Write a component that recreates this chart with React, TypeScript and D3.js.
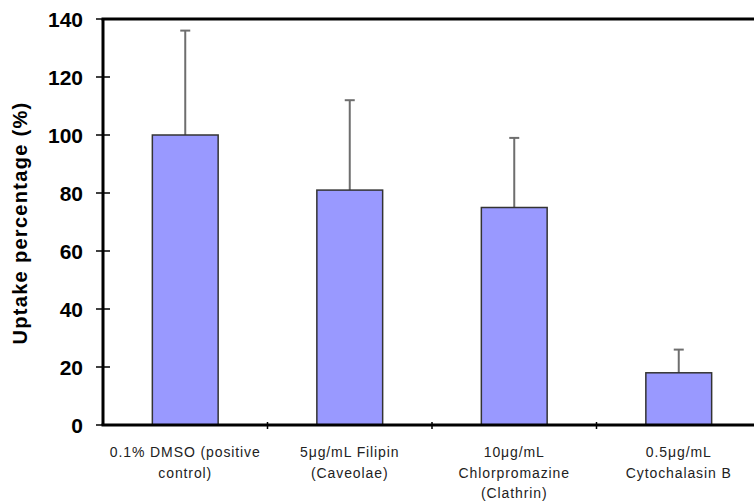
import React from "react";
import * as d3 from "d3";

const categories: string[][] = [
  ["0.1% DMSO (positive", "control)"],
  ["5μg/mL Filipin", "(Caveolae)"],
  ["10μg/mL", "Chlorpromazine", "(Clathrin)"],
  ["0.5μg/mL", "Cytochalasin B"],
];
const means = [100, 81, 75, 18];
const errors = [36, 31, 24, 8];
const yTicks = [0, 20, 40, 60, 80, 100, 120, 140];

const W = 754;
const H = 502;
const margin = { left: 103, top: 19, right: 761, bottom: 425 };

export default function App() {
  const x = d3
    .scaleBand<number>()
    .domain(d3.range(categories.length))
    .range([margin.left, margin.right])
    .paddingInner(0)
    .paddingOuter(0);
  const y = d3.scaleLinear().domain([0, 140]).range([margin.bottom, margin.top]);
  const bw = x.bandwidth() * 0.4;
  const boundaries = d3.range(categories.length + 1).map((i) => margin.left + i * x.step());

  return (
    <svg
      width={W}
      height={H}
      style={{ position: "absolute", left: 0, top: 0, background: "#fff" }}
      fontFamily="'Liberation Sans', Arial, sans-serif"
    >
      {/* bars with upper error bars */}
      {means.map((m, i) => {
        const cx = (x(i) as number) + x.bandwidth() / 2;
        return (
          <g key={i}>
            <line x1={cx} x2={cx} y1={y(m)} y2={y(m + errors[i])} stroke="#6e6e6e" strokeWidth={2} />
            <line
              x1={cx - 5}
              x2={cx + 5}
              y1={y(m + errors[i])}
              y2={y(m + errors[i])}
              stroke="#6e6e6e"
              strokeWidth={2}
            />
            <rect
              x={cx - bw / 2}
              y={y(m)}
              width={bw}
              height={y(0) - y(m)}
              fill="#9999FF"
              stroke="#333"
              strokeWidth={1.5}
            />
          </g>
        );
      })}

      {/* frame: left axis, top line, baseline */}
      <line x1={margin.left} x2={margin.left} y1={margin.top} y2={margin.bottom} stroke="#000" strokeWidth={3} />
      <line x1={margin.left - 1.5} x2={margin.right} y1={margin.top} y2={margin.top} stroke="#000" strokeWidth={3} />
      <line x1={margin.left - 1.5} x2={margin.right} y1={margin.bottom} y2={margin.bottom} stroke="#000" strokeWidth={3} />

      {/* y ticks */}
      {yTicks.map((t) => (
        <g key={t}>
          <line x1={margin.left - 7} x2={margin.left + 7} y1={y(t)} y2={y(t)} stroke="#000" strokeWidth={1.5} />
          <text
            x={margin.left - 20}
            y={y(t)}
            dy="0.36em"
            textAnchor="end"
            fontSize={21}
            fontWeight="bold"
            fill="#000"
          >
            {t}
          </text>
        </g>
      ))}

      {/* x ticks at category boundaries */}
      {boundaries.slice(1).map((bx, i) => (
        <line key={i} x1={bx} x2={bx} y1={margin.bottom - 3} y2={margin.bottom + 4} stroke="#000" strokeWidth={1.5} />
      ))}

      {/* category labels */}
      {categories.map((lines, i) => {
        const cx = (x(i) as number) + x.bandwidth() / 2;
        return (
          <text key={i} textAnchor="middle" fontSize={14} letterSpacing={0.9} fill="#222">
            {lines.map((ln, j) => (
              <tspan key={j} x={cx} y={457 + j * 20.5}>
                {ln}
              </tspan>
            ))}
          </text>
        );
      })}

      {/* y axis title */}
      <text
        transform="translate(27,223) rotate(-90)"
        textAnchor="middle"
        fontSize={20}
        fontWeight="bold"
        letterSpacing={1.3}
        fill="#000"
      >
        Uptake percentage (%)
      </text>
    </svg>
  );
}
